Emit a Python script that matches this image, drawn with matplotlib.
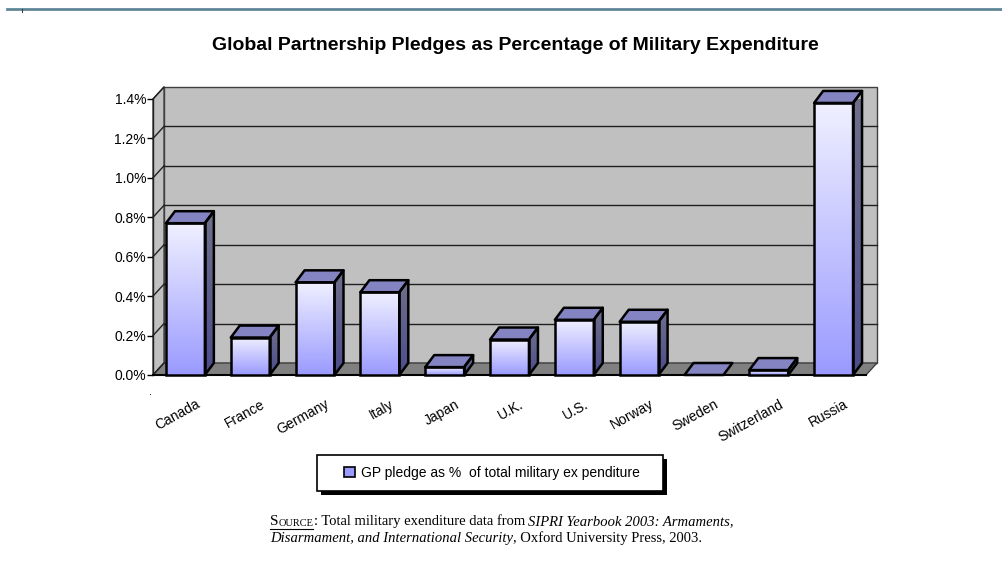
## gp_pledges_fig: 3-d style bar chart of GP pledges as % of military expenditure
# -----------------------------------------------------------------------------
import numpy as np
from matplotlib import (pyplot as plt, patches as pat, transforms as trf)
from matplotlib.colors import LinearSegmentedColormap
from matplotlib.lines import Line2D

# -----------------------------------------------------------------------------
## --- section_a: data ---
countries = ['Canada', 'France', 'Germany', 'Italy', 'Japan', 'U.K.', 'U.S.',
             'Norway', 'Sweden', 'Switzerland', 'Russia']
pledge_pct = [0.77, 0.19, 0.47, 0.42, 0.04, 0.18, 0.28, 0.27, 0.0, 0.025, 1.38]
yticks = [0.0, 0.2, 0.4, 0.6, 0.8, 1.0, 1.2, 1.4]
title = 'Global Partnership Pledges as Percentage of Military Expenditure'
legend_label = 'GP pledge as %  of total military ex penditure'

# -----------------------------------------------------------------------------
## --- section_b: figure and axes ---
W, H, dpi = 1003, 565, 100
fig = plt.figure(figsize=(W/dpi, H/dpi), dpi=dpi)
fig.patch.set_facecolor('white')
ax = fig.add_axes([153/W, 1-375/H, 713/W, 276/H])
ax.set_xlim(-0.5, len(countries)-0.5)
ax.set_ylim(0, 1.4)
ax.set_facecolor('none')
for sp in ax.spines.values():
    sp.set_visible(False)

sans = ['Liberation Sans', 'DejaVu Sans']
serif = ['Liberation Serif', 'DejaVu Serif']

# pixel offsets -> data offsets for the depth of walls and bars
inv = ax.transData.inverted()
def depth(dx, dy):
    p0 = ax.transData.transform((0, 0))
    p1 = inv.transform((p0[0]+dx, p0[1]+dy))
    return p1[0], p1[1]
wdx, wdy = depth(11, 12)
bdx, bdy = depth(9, 12)
x0, x1 = ax.get_xlim()
ytop = yticks[-1]

# -----------------------------------------------------------------------------
## --- section_c: walls, floor and grid ---
wall = '#c0c0c0'
ax.add_patch(pat.Polygon([(x0+wdx, wdy), (x1+wdx, wdy), (x1+wdx, ytop+wdy), (x0+wdx, ytop+wdy)],
    closed=True, facecolor=wall, edgecolor='#404040', linewidth=1., clip_on=False, zorder=1))
ax.add_patch(pat.Polygon([(x0, 0), (x0+wdx, wdy), (x0+wdx, ytop+wdy), (x0, ytop)],
    closed=True, facecolor=wall, edgecolor='#404040', linewidth=1., clip_on=False, zorder=1))
ax.add_patch(pat.Polygon([(x0, 0), (x1, 0), (x1+wdx, wdy), (x0+wdx, wdy)],
    closed=True, facecolor='#808080', edgecolor='#404040', linewidth=1., clip_on=False, zorder=1))
for yt in yticks[1:-1]:
    ax.plot([x0+wdx, x1+wdx], [yt+wdy, yt+wdy], color='#202020', linewidth=1.,
            clip_on=False, zorder=2)
for yt in yticks:
    ax.plot([x0, x0+wdx], [yt, yt+wdy], color='#202020', linewidth=1.,
            clip_on=False, zorder=2)
ax.plot([x0, x0], [0, ytop], color='#202020', linewidth=1., clip_on=False, zorder=2)
ax.plot([x0, x1], [0, 0], color='black', linewidth=1.5, clip_on=False, zorder=2)

# -----------------------------------------------------------------------------
## --- section_d: bars ---
cmap_front = LinearSegmentedColormap.from_list('front', ['#9a9aff', '#f0f0ff'])
cmap_side = LinearSegmentedColormap.from_list('side', ['#4c4c8c', '#70708c'])
grad = np.linspace(0, 1, 256).reshape(-1, 1)
bw = 0.6
for i, v in enumerate(pledge_pct):
    bl, br = i-bw/2, i+bw/2
    z = 10 + i
    if v > 0:
        ax.imshow(grad, extent=(bl, br, 0, v), origin='lower', aspect='auto',
                  cmap=cmap_front, zorder=z, clip_on=False)
        ax.add_patch(pat.Rectangle((bl, 0), bw, v, facecolor='none',
            edgecolor='black', linewidth=1.8, clip_on=False, zorder=z+0.2))
        side = pat.Polygon([(br, 0), (br+bdx, bdy), (br+bdx, v+bdy), (br, v)],
            closed=True, facecolor='none', edgecolor='black', linewidth=1.8,
            joinstyle='round', clip_on=False, zorder=z+0.15)
        ax.add_patch(side)
        im = ax.imshow(grad, extent=(br, br+bdx, 0, v+bdy), origin='lower', aspect='auto',
                       cmap=cmap_side, zorder=z+0.1)
        im.set_clip_path(side)
    ax.add_patch(pat.Polygon([(bl, v), (br, v), (br+bdx, v+bdy), (bl+bdx, v+bdy)],
        closed=True, facecolor='#8484c2', edgecolor='black', linewidth=1.8,
        joinstyle='round', clip_on=False, zorder=z+0.1))
ax.set_xlim(x0, x1)
ax.set_ylim(0, 1.4)

# -----------------------------------------------------------------------------
## --- section_e: ticks and labels ---
ax.set_yticks(yticks)
ax.set_yticklabels([f'{t:.1f}%' for t in yticks], family=sans, fontsize=10)
ax.tick_params(axis='y', length=4, width=1, direction='out', pad=1, colors='black')
ax.set_xticks([])
lab_off = trf.ScaledTranslation(10/dpi, -22/dpi, fig.dpi_scale_trans)
for i, name in enumerate(countries):
    ax.text(i, 0, name, transform=ax.transData + lab_off, rotation=29,
            rotation_mode='anchor', ha='right', va='top', fontsize=10, family=sans)

fig.text(515/W, 1-45/H, title, ha='center', va='center', fontsize=14,
         fontweight='bold', family=sans)

# -----------------------------------------------------------------------------
## --- section_f: legend (box drawn by hand, entry by legend) ---
fig.add_artist(pat.Rectangle((321/W, 1-495/H), 346/W, 36/H, transform=fig.transFigure,
                             facecolor='black', edgecolor='black', linewidth=0, zorder=4))
fig.add_artist(pat.Rectangle((317/W, 1-491/H), 346/W, 36/H, transform=fig.transFigure,
                             facecolor='white', edgecolor='black', linewidth=1.2, zorder=5))
hnd = pat.Patch(facecolor='#9a9aff', edgecolor='black', linewidth=1.2)
leg = fig.legend([hnd], [legend_label], loc='center', bbox_to_anchor=(492/W, 1-473/H),
    frameon=False, prop={'family': sans, 'size': 10},
    handlelength=0.8, handleheight=0.8, handletextpad=0.4, borderpad=0, borderaxespad=0)
leg.set_zorder(6)

# -----------------------------------------------------------------------------
## --- section_g: source note ---
fs = 10.5
t0 = fig.text(270/W, 1-525/H, 'S', fontsize=fs+0.5, family=serif, va='baseline')
pieces = [('OURCE', fs-3, 'normal'),
          (': Total military exenditure data from ', fs, 'normal'),
          ('SIPRI Yearbook 2003: Armaments,', fs, 'italic')]
prev = t0
chain = [t0]
for txt, s, st in pieces:
    a = plt.annotate(txt, xy=(1, 0), xycoords=prev, va='bottom', ha='left',
                     fontsize=s, fontstyle=st, family=serif, annotation_clip=False)
    chain.append(a)
    prev = a
u0 = fig.text(270/W, 1-542/H, 'Disarmament, and International Security', fontsize=fs,
              fontstyle='italic', family=serif, va='baseline')
plt.annotate(', Oxford University Press, 2003.', xy=(1, 0), xycoords=u0, va='bottom',
             ha='left', fontsize=fs, family=serif, annotation_clip=False)

# top rule of the page
fig.add_artist(Line2D([7/W, 1], [1-8.5/H, 1-8.5/H], color='#5f8797', linewidth=2.))
fig.add_artist(Line2D([22/W, 22/W], [1-9/H, 1-12/H], color='#404040', linewidth=0.8))
fig.text(150/W, 1-392/H, '.', fontsize=7, ha='center', va='center')

# underline of SOURCE
fig.canvas.draw()
r = fig.canvas.get_renderer()
bb0 = chain[0].get_window_extent(r)
bb1 = chain[1].get_window_extent(r)
fig.add_artist(Line2D([bb0.x0/W, bb1.x1/W], [(bb0.y0-1)/H, (bb0.y0-1)/H],
                      color='black', linewidth=0.8))

fig.savefig('out.png', dpi=dpi)
